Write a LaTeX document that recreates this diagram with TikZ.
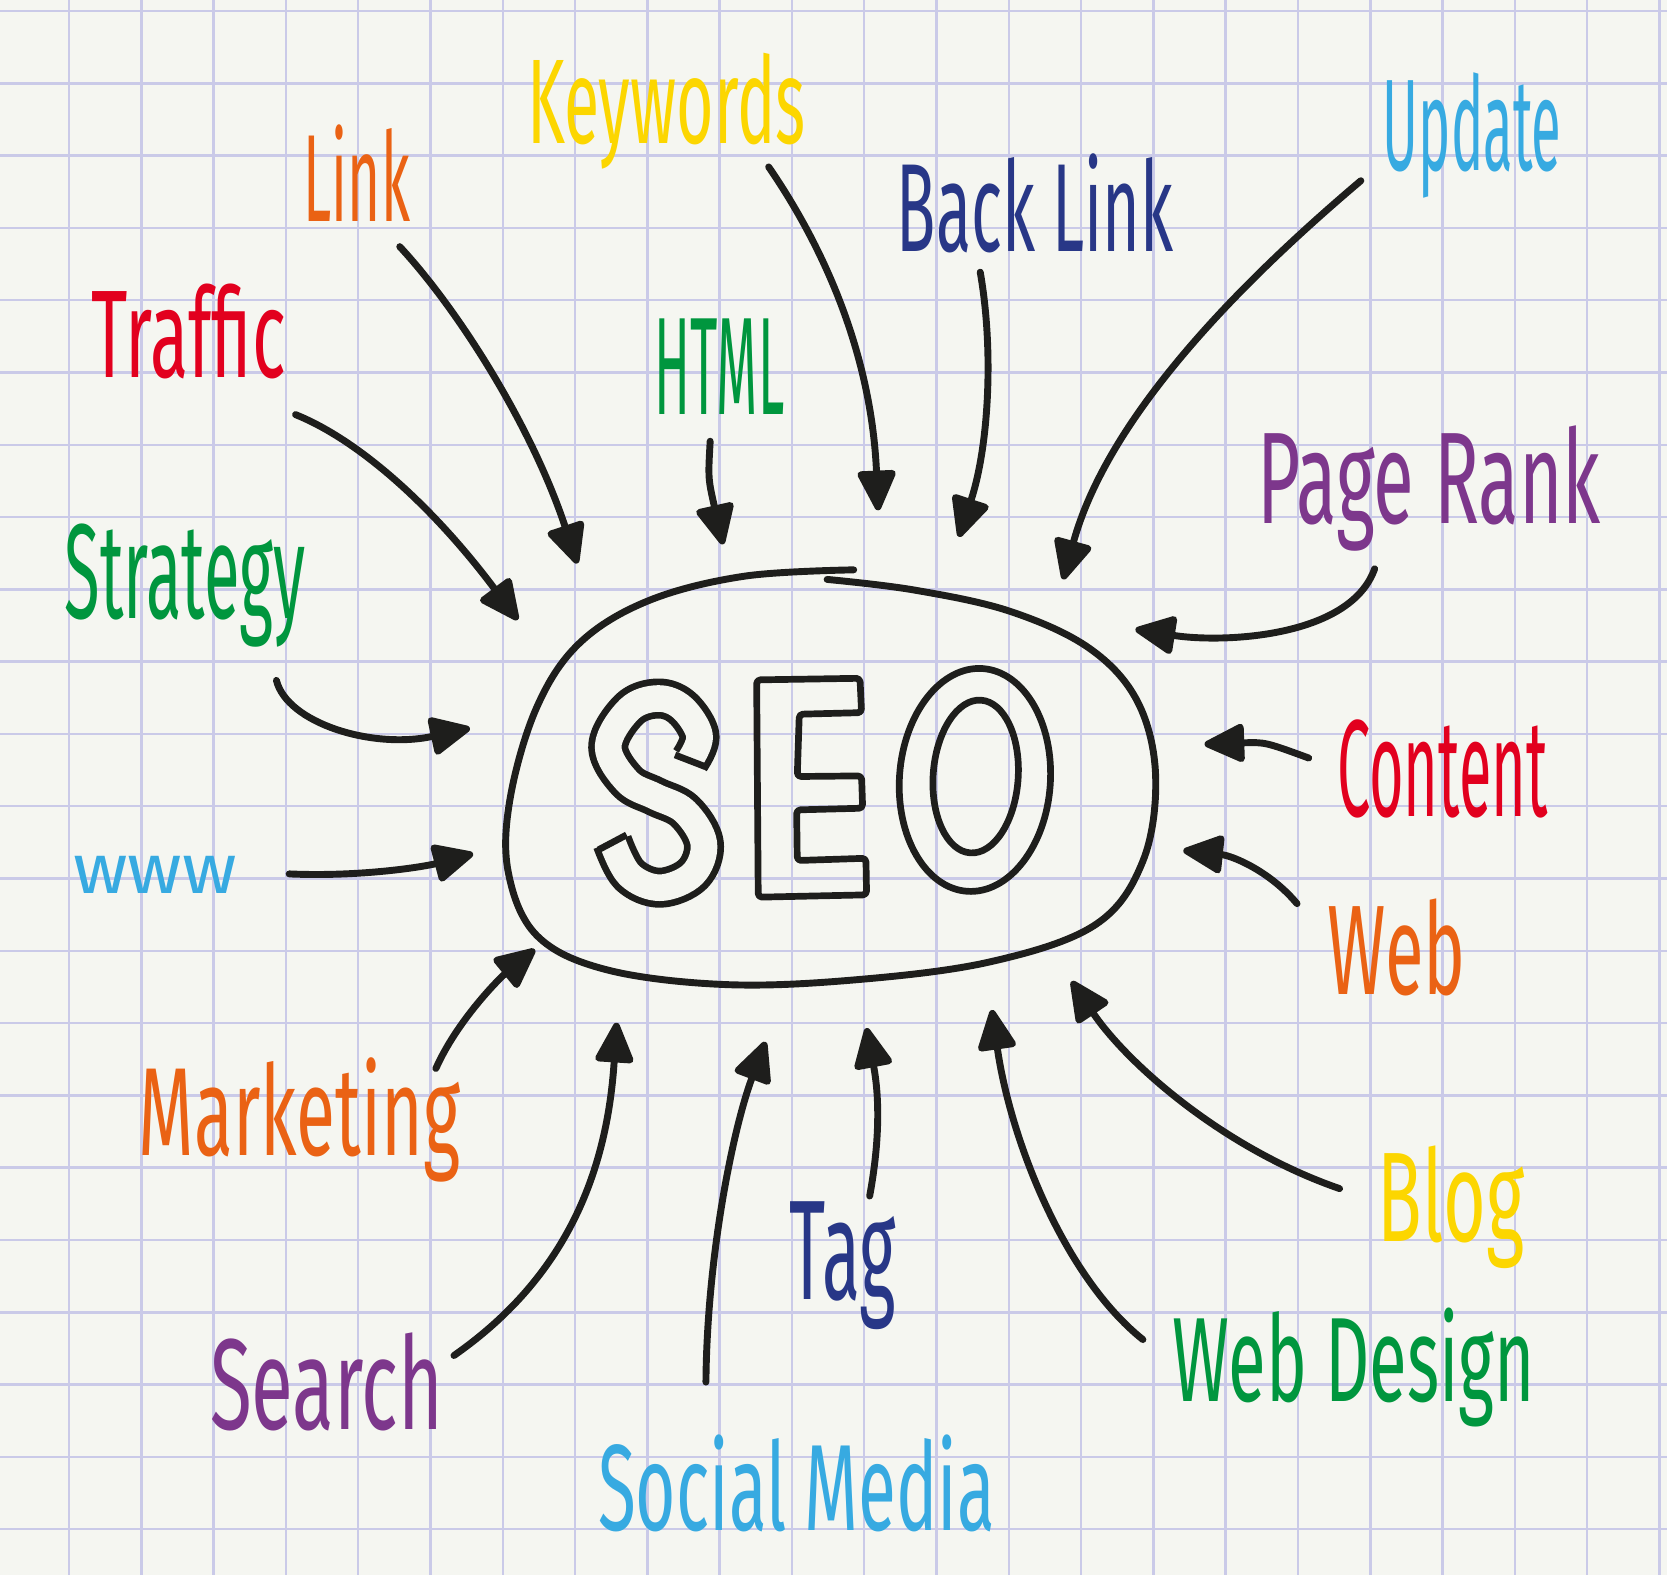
\documentclass[tikz,border=0pt]{standalone}
\usepackage{fontspec}
\setmainfont{Fira Sans}
\usepackage{graphicx}
\usepackage{xcolor}
\usepackage{tikz}
\usetikzlibrary{arrows.meta}

\definecolor{paper}{RGB}{245,246,241}
\definecolor{gridblue}{RGB}{202,202,232}
\definecolor{ink}{RGB}{30,30,28}
\definecolor{wred}{RGB}{226,0,30}
\definecolor{worange}{RGB}{234,98,20}
\definecolor{wyellow}{RGB}{252,214,0}
\definecolor{wgreen}{RGB}{0,150,62}
\definecolor{wnavy}{RGB}{40,55,135}
\definecolor{wsky}{RGB}{55,170,225}
\definecolor{wpurple}{RGB}{125,55,140}

\newcommand{\fitword}[3]{\resizebox{#1cm}{#2cm}{#3}}

\tikzset{
  gridline/.style={line width=0.023cm,gridblue},
  seo arrow/.style={line width=0.065cm,ink,line cap=round,
    -{Triangle[length=0.42cm,width=0.38cm,round]}},
  outline/.style={line width=0.063cm,ink,line join=round},
  word/.style={inner sep=0pt,anchor=base west,font=\fontsize{30}{36}\selectfont}
}

\begin{document}
\begin{tikzpicture}
		\useasboundingbox (0,0) rectangle (15.68,-14.81);
		\fill[paper] (0,0) rectangle (15.68,-14.81);
		% squared paper
		\foreach \i in {0,...,22}
			\draw[gridline] ({0.649+0.68*\i},0) -- ++(0,-14.81);
		\foreach \j in {0,...,21}
			\draw[gridline] (0,{-0.1035-0.68*\j}) -- ++(15.68,0);

		% the hand drawn ring
		\draw[line width=0.065cm,ink,line cap=round] plot[smooth,tension=0.6] coordinates {
			(8.03,-5.36) (7.00,-5.42) (6.10,-5.65) (5.45,-6.05) (5.05,-6.65) (4.80,-7.50)
			(4.78,-8.20) (5.05,-8.80) (5.70,-9.12) (6.80,-9.26) (8.00,-9.22) (9.30,-9.05)
			(10.30,-8.70) (10.75,-8.10) (10.87,-7.30) (10.70,-6.60) (10.25,-6.10)
			(9.50,-5.75) (8.60,-5.55) (7.78,-5.45)};

		% S
		\draw[outline,double=paper,double distance=0.25cm] plot[smooth,tension=0.6] coordinates {
			(6.49,-7.15) (6.58,-6.92) (6.42,-6.66) (6.19,-6.57) (5.92,-6.67) (5.72,-7.02)
			(5.90,-7.35) (6.16,-7.49) (6.44,-7.63) (6.62,-7.93) (6.52,-8.22) (6.21,-8.35)
			(5.92,-8.23) (5.76,-7.92)};
		\draw[outline] (6.349,-7.101) -- (6.631,-7.210);
		\draw[outline] (5.628,-7.994) -- (5.894,-7.853);
		% E
		\draw[outline,rounded corners=1pt] (7.117,-6.395) -- (8.089,-6.380) -- (8.104,-6.703)
			-- (7.518,-6.718) -- (7.499,-7.304) -- (8.104,-7.298) -- (8.114,-7.602)
			-- (7.493,-7.618) -- (7.499,-8.094) -- (8.145,-8.073) -- (8.151,-8.417)
			-- (7.132,-8.439) -- cycle;
		% O
		\draw[outline] (9.17,-7.336) ellipse [x radius=0.71,y radius=1.05,rotate=-4];
		\draw[outline] (9.177,-7.304) ellipse [x radius=0.40,y radius=0.72,rotate=-4];

		% words
		\node[word,text=wyellow] (keywords) at (4.95,-1.35) {\fitword{2.62}{0.85}{Keywords}};
		\node[word,text=worange] (link) at (2.85,-2.08) {\fitword{1.00}{0.91}{Link}};
		\node[word,text=wred] (traffic) at (0.85,-3.55) {\fitword{1.83}{0.88}{Traffic}};
		\node[word,text=wgreen] (html) at (6.15,-3.90) {\fitword{1.22}{0.90}{HTML}};
		\node[word,text=wnavy] (backlink) at (8.43,-2.37) {\fitword{2.60}{0.92}{Back Link}};
		\node[word,text=wsky] (update) at (13.00,-1.60) {\fitword{1.68}{0.92}{Update}};
		\node[word,text=wpurple] (pagerank) at (11.82,-4.92) {\fitword{3.23}{0.92}{Page Rank}};
		\node[word,text=wgreen] (strategy) at (0.60,-5.82) {\fitword{2.27}{0.89}{Strategy}};
		\node[word,text=wsky] (www) at (0.68,-8.40) {\fitword{1.54}{0.35}{www}};
		\node[word,text=wred] (content) at (12.57,-7.68) {\fitword{1.98}{0.91}{Content}};
		\node[word,text=worange] (web) at (12.48,-9.35) {\fitword{1.30}{0.90}{Web}};
		\node[word,text=worange] (marketing) at (1.30,-10.87) {\fitword{3.02}{0.92}{Marketing}};
		\node[word,text=wyellow] (blog) at (12.95,-11.68) {\fitword{1.38}{0.90}{Blog}};
		\node[word,text=wnavy] (tag) at (7.42,-12.22) {\fitword{1.00}{0.92}{Tag}};
		\node[word,text=wpurple] (search) at (1.97,-13.45) {\fitword{2.19}{0.91}{Search}};
		\node[word,text=wsky] (socialmedia) at (5.62,-14.40) {\fitword{3.73}{0.90}{Social Media}};
		\node[word,text=wgreen] (webdesign) at (11.02,-13.18) {\fitword{3.41}{0.88}{Web Design}};

		% arrow ends
		\coordinate (link-from) at (3.76,-2.32);
		\coordinate (link-to) at (5.43,-5.30);
		\coordinate (traffic-from) at (2.78,-3.90);
		\coordinate (traffic-to) at (4.87,-5.83);
		\coordinate (keywords-from) at (7.23,-1.57);
		\coordinate (keywords-to) at (8.26,-4.80);
		\coordinate (html-from) at (6.68,-4.15);
		\coordinate (html-to) at (6.80,-5.12);
		\coordinate (backlink-from) at (9.22,-2.56);
		\coordinate (backlink-to) at (9.02,-5.05);
		\coordinate (update-from) at (12.80,-1.70);
		\coordinate (update-to) at (10.00,-5.45);
		\coordinate (pagerank-from) at (12.93,-5.35);
		\coordinate (pagerank-to) at (10.68,-5.92);
		\coordinate (strategy-from) at (2.60,-6.40);
		\coordinate (strategy-to) at (4.42,-6.85);
		\coordinate (www-from) at (2.72,-8.22);
		\coordinate (www-to) at (4.45,-8.03);
		\coordinate (content-from) at (12.31,-7.13);
		\coordinate (content-to) at (11.33,-7.00);
		\coordinate (web-from) at (12.20,-8.50);
		\coordinate (web-to) at (11.13,-8.00);
		\coordinate (marketing-from) at (4.10,-10.05);
		\coordinate (marketing-to) at (5.03,-8.93);
		\coordinate (blog-from) at (12.60,-11.18);
		\coordinate (blog-to) at (10.08,-9.23);
		\coordinate (tag-from) at (8.18,-11.25);
		\coordinate (tag-to) at (8.15,-9.67);
		\coordinate (search-from) at (4.27,-12.75);
		\coordinate (search-to) at (5.80,-9.62);
		\coordinate (socialmedia-from) at (6.64,-13.00);
		\coordinate (socialmedia-to) at (7.20,-9.80);
		\coordinate (webdesign-from) at (10.75,-12.60);
		\coordinate (webdesign-to) at (9.33,-9.50);

		% arrows
		\draw[seo arrow] (link-from) .. controls (4.30,-2.90) and (5.00,-4.00) .. (link-to);
		\draw[seo arrow] (traffic-from) .. controls (3.40,-4.15) and (4.10,-4.80) .. (traffic-to);
		\draw[seo arrow] (keywords-from) .. controls (7.80,-2.40) and (8.20,-3.40) .. (keywords-to);
		\draw[seo arrow] (html-from) .. controls (6.66,-4.50) .. (html-to);
		\draw[seo arrow] (backlink-from) .. controls (9.35,-3.30) and (9.30,-4.20) .. (backlink-to);
		\draw[seo arrow] (update-from) .. controls (11.50,-2.80) and (10.40,-4.00) .. (update-to);
		\draw[seo arrow] (pagerank-from) .. controls (12.70,-6.00) and (11.50,-6.05) .. (pagerank-to);
		\draw[seo arrow] (strategy-from) .. controls (2.70,-6.80) and (3.50,-7.05) .. (strategy-to);
		\draw[seo arrow] (www-from) .. controls (3.40,-8.25) and (4.00,-8.15) .. (www-to);
		\draw[seo arrow] (content-from) .. controls (11.90,-6.98) .. (content-to);
		\draw[seo arrow] (web-from) .. controls (11.95,-8.20) and (11.60,-8.05) .. (web-to);
		\draw[seo arrow] (marketing-from) .. controls (4.30,-9.60) and (4.70,-9.20) .. (marketing-to);
		\draw[seo arrow] (blog-from) .. controls (11.50,-10.80) and (10.60,-10.00) .. (blog-to);
		\draw[seo arrow] (tag-from) .. controls (8.30,-10.60) and (8.25,-10.20) .. (tag-to);
		\draw[seo arrow] (search-from) .. controls (5.20,-12.10) and (5.70,-11.20) .. (search-to);
		\draw[seo arrow] (socialmedia-from) .. controls (6.65,-11.80) and (6.90,-10.60) .. (socialmedia-to);
		\draw[seo arrow] (webdesign-from) .. controls (10.00,-12.00) and (9.50,-10.70) .. (webdesign-to);
	\end{tikzpicture}
\end{document}
